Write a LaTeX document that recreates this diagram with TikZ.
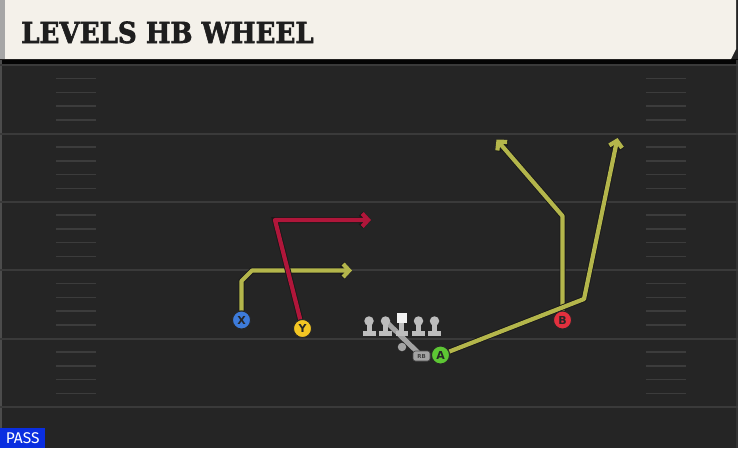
\documentclass[tikz,border=0pt]{standalone}
\usepackage{fontspec}
\usetikzlibrary{arrows.meta}
\newfontfamily\titlefont{DejaVu Serif}[BoldFeatures={FakeBold=2.2}]
\newfontfamily\labelfont{DejaVu Sans}
\newfontfamily\passfont{Fira Sans}
\definecolor{fieldc}{HTML}{252525}
\definecolor{linec}{HTML}{3A3A3A}
\definecolor{hashc}{HTML}{3C3C3C}
\definecolor{headerc}{HTML}{F4F1EA}
\definecolor{titlec}{HTML}{1E1E1E}
\definecolor{passblue}{HTML}{0A2EE0}
\definecolor{routey}{HTML}{B4B64B}
\definecolor{router}{HTML}{B0163A}
\definecolor{xblue}{HTML}{3D7BDA}
\definecolor{yyellow}{HTML}{F3C623}
\definecolor{bred}{HTML}{E2303E}
\definecolor{agreen}{HTML}{5DC634}
\definecolor{lmgray}{HTML}{BDBDBD}
\definecolor{rbgray}{HTML}{A3A3A3}
\pgfdeclarelayer{bg}
\pgfdeclarelayer{routes}
\pgfsetlayers{bg,routes,main}
\tikzset{
  player/.style={circle, minimum size=18pt, inner sep=0pt, draw=black!85, line width=0.9pt,
    font=\labelfont\bfseries\fontsize{11}{11}\selectfont, text=black!85},
  route/.style={line width=4.2pt, line join=round,
    preaction={draw=black!90, line width=6pt},
    -{Straight Barb[length=6pt,width=13pt]}},
  yroute/.style={route, draw=routey},
  rroute/.style={route, draw=router},
  yardline/.style={draw=linec, line width=2pt},
  hashmark/.style={draw=hashc, line width=1.5pt},
  lmpart/.style={fill=lmgray, draw=none},
  lineman/.pic={
    \fill[lmpart] (-6.5,9.5) rectangle (6.5,15);
    \fill[lmpart] (-2.5,2) rectangle (2.5,10);
    \node[circle, fill=lmgray, minimum size=9.5pt, inner sep=0pt] (-head) at (0,0) {};
  },
  centerman/.pic={
    \fill[lmpart] (-6,13) rectangle (6,18.5);
    \fill[lmpart] (-2.5,4) rectangle (2.5,14);
    \node[rectangle, fill=white!95!black, minimum width=10pt, minimum height=10pt, inner sep=0pt] (-head) at (0,0) {};
  },
}
\begin{document}
\begin{tikzpicture}[x=1pt,y=-1pt]
\useasboundingbox (0,0) rectangle (738,448);
\begin{pgfonlayer}{bg}
  \fill[fieldc] (0,0) rectangle (738,448);
  \fill[black!90!fieldc] (0,59) rectangle (738,64);
  \fill[headerc] (0,0) -- (736,0) -- (736,49) -- (731,59) -- (0,59) -- cycle;
  \fill[black!35] (0,0) rectangle (5,59);
  \fill[black!70] (0,60) rectangle (2,448);
  \fill[black!80] (735.5,60) rectangle (738,448);
  \foreach \y in {65,133.5,201.5,270,338.5,407} {
    \draw[yardline] (0,\y) -- (738,\y);
  }
  \foreach \y in {65,133.5,201.5,270,338.5} {
    \foreach \k in {1,2,3,4} {
      \draw[hashmark] (56,\y+13.7*\k) -- (96,\y+13.7*\k);
      \draw[hashmark] (646,\y+13.7*\k) -- (686,\y+13.7*\k);
    }
  }
\end{pgfonlayer}

\node[anchor=base west, inner sep=0pt, text=titlec,
  font=\titlefont\bfseries\fontsize{29}{29}\selectfont] (title) at (21,43)
  {\scalebox{0.9}[1]{LEVELS HB WHEEL}};

\node[fill=passblue, text=white, anchor=south west, minimum width=45pt, minimum height=20pt,
  inner sep=0pt, font=\passfont\fontsize{15.5}{15.5}\selectfont] (pass) at (0,448) {PASS};

% offensive line
\pic (lt) at (369,321) {lineman};
\pic (lg) at (385.5,321) {lineman};
\pic (c) at (401.5,317.5) {centerman};
\pic (rg) at (418.5,321) {lineman};
\pic (rt) at (434.5,321) {lineman};

\node[circle, fill=rbgray, minimum size=8.5pt, inner sep=0pt] (QB) at (402,347) {};
\node[rectangle, rounded corners=2.5pt, fill=rbgray, draw=black!70, line width=0.6pt,
  minimum width=17pt, minimum height=10pt, inner sep=0pt,
  font=\labelfont\bfseries\fontsize{5.5}{5.5}\selectfont, text=black!75] (RB) at (421.5,356) {RB};

% players
\node[player, fill=xblue] (X) at (241.5,320) {X};
\node[player, fill=yyellow] (Y) at (302.5,328.5) {Y};
\node[player, fill=bred] (B) at (562.5,320) {B};
\node[player, fill=agreen] (A) at (440.5,355) {A};

\coordinate (xend) at (352,270.5);
\coordinate (yend) at (371,220);
\coordinate (bend) at (496.5,139.5);
\coordinate (aend) at (617.5,138);

\begin{pgfonlayer}{routes}
  \draw[draw=rbgray, line width=5pt] (lg-head.center) -- (RB.center);
  \draw[yroute] (X) -- (241.5,281) -- (252,270.5) -- (xend);
  \draw[rroute] (Y) -- (275,220) -- (yend);
  \draw[yroute] (B) -- (562.5,216) -- (bend);
  \draw[yroute] (A) -- (584,299) -- (aend);
\end{pgfonlayer}
\end{tikzpicture}
\end{document}
